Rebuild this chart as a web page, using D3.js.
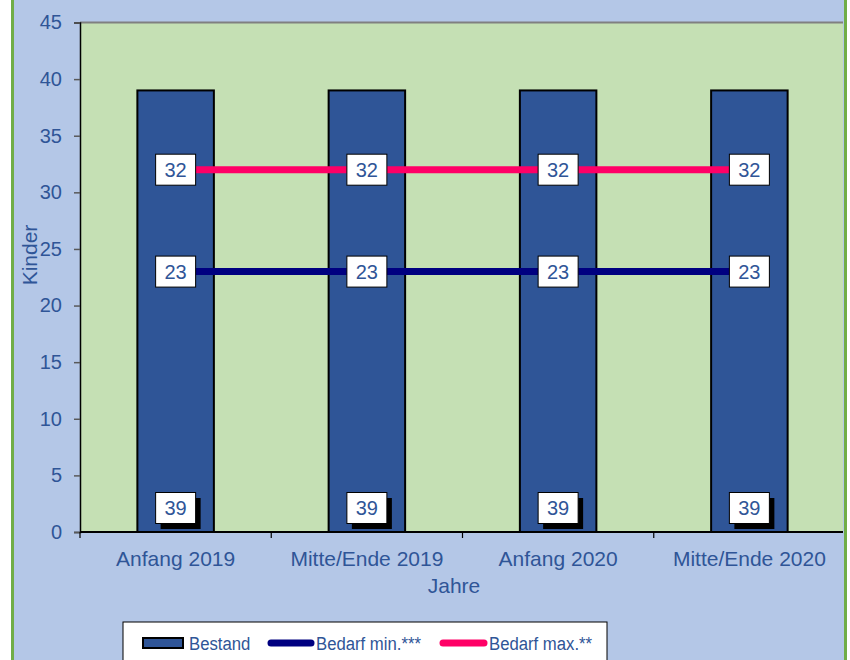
<!DOCTYPE html>
<html><head><meta charset="utf-8">
<script src="https://cdn.jsdelivr.net/npm/d3@7"></script>
<style>body{margin:0;background:#fff;}svg{display:block;font-family:Arial,"Liberation Sans",sans-serif;}</style>
</head><body><svg id="c" width="850" height="660"></svg>
<script>
const categories = ["Anfang 2019", "Mitte/Ende 2019", "Anfang 2020", "Mitte/Ende 2020"];
const bestand = [39, 39, 39, 39];
const bedarfMin = [23, 23, 23, 23];
const bedarfMax = [32, 32, 32, 32];
const yTicks = [0, 5, 10, 15, 20, 25, 30, 35, 40, 45];
const seriesNames = ["Bestand", "Bedarf min.***", "Bedarf max.**"];

const textColor = "#2f5597";
const svg = d3.select("#c");
// outer chart area
svg.append("rect").attr("x", 12.5).attr("y", -5).attr("width", 833).attr("height", 680)
  .attr("fill", "#b4c7e7").attr("stroke", "#70ad47").attr("stroke-width", 3);

const L = 80, R = 845, T = 22.5, B = 532;
const x = d3.scaleBand().domain(categories).range([L, R]).paddingInner(0).paddingOuter(0);
const y = d3.scaleLinear().domain([0, 45]).range([B, T]);

svg.append("rect").attr("x", L).attr("y", T).attr("width", R - L - 2).attr("height", B - T).attr("fill", "#c5e0b4");
svg.append("line").attr("x1", L).attr("x2", R - 2).attr("y1", T).attr("y2", T).attr("stroke", "#808080").attr("stroke-width", 2);

// bars
const bw = x.bandwidth() * 0.4;
svg.selectAll(".bar").data(bestand).enter().append("rect")
  .attr("x", (d, i) => x(categories[i]) + x.bandwidth() / 2 - bw / 2)
  .attr("y", d => y(d)).attr("width", bw).attr("height", d => y(0) - y(d))
  .attr("fill", "#2f5597").attr("stroke", "#000").attr("stroke-width", 2);

// axes
const yAxis = d3.axisLeft(y).tickValues(yTicks).tickSize(6).tickPadding(12);
const gy = svg.append("g").attr("transform", `translate(${L},0)`).call(yAxis);
gy.select(".domain").attr("stroke", "#000").attr("stroke-width", 1.5);
gy.selectAll(".tick line").attr("stroke", "#595959").attr("stroke-width", 1.5);
gy.selectAll("text").attr("fill", textColor).attr("font-size", 20).attr("font-family", "Arial, Liberation Sans");

const gx = svg.append("g").attr("transform", `translate(0,${B})`);
gx.append("line").attr("x1", L).attr("x2", R - 2).attr("y1", 0).attr("y2", 0).attr("stroke", "#000").attr("stroke-width", 2);
const bounds = [L].concat(categories.map(c => x(c) + x.bandwidth())).slice(0, 4);
gx.selectAll(".xt").data(bounds).enter().append("line")
  .attr("x1", d => d).attr("x2", d => d).attr("y1", 0).attr("y2", 6).attr("stroke", "#000").attr("stroke-width", 1.2);
gx.selectAll(".xl").data(categories).enter().append("text")
  .attr("x", d => x(d) + x.bandwidth() / 2).attr("y", 34).attr("text-anchor", "middle")
  .attr("fill", textColor).attr("font-size", 21).text(d => d);

svg.append("text").attr("x", 454).attr("y", 593).attr("text-anchor", "middle").attr("fill", textColor).attr("font-size", 21).text("Jahre");
svg.append("text").attr("transform", "translate(37,255) rotate(-90)").attr("text-anchor", "middle").attr("fill", textColor).attr("font-size", 21).text("Kinder");

// lines
const cx = i => x(categories[i]) + x.bandwidth() / 2;
const lineGen = d3.line().x((d, i) => cx(i)).y(d => y(d));
svg.append("path").datum(bedarfMin).attr("d", lineGen).attr("fill", "none").attr("stroke", "#000080").attr("stroke-width", 7);
svg.append("path").datum(bedarfMax).attr("d", lineGen).attr("fill", "none").attr("stroke", "#ff0066").attr("stroke-width", 7);

// labels
function label(val, i, yy, shadow) {
  const g = svg.append("g").attr("transform", `translate(${cx(i)},${yy})`);
  if (shadow) g.append("rect").attr("x", -15).attr("y", -10).attr("width", 40).attr("height", 31).attr("fill", "#000");
  g.append("rect").attr("x", -20).attr("y", -15.5).attr("width", 40).attr("height", 31).attr("fill", "#fff").attr("stroke", "#000").attr("stroke-width", 1);
  g.append("text").attr("x", 0).attr("y", 7).attr("text-anchor", "middle").attr("fill", textColor).attr("font-size", 20).text(val);
}
bedarfMax.forEach((v, i) => label(v, i, y(v), false));
bedarfMin.forEach((v, i) => label(v, i, y(v), false));
bestand.forEach((v, i) => label(v, i, 508, true));

// legend
const lg = svg.append("g");
lg.append("rect").attr("x", 123).attr("y", 622).attr("width", 484).attr("height", 60).attr("fill", "#fff").attr("stroke", "#000").attr("stroke-width", 1);
lg.append("rect").attr("x", 143).attr("y", 638).attr("width", 40).attr("height", 10).attr("fill", "#2f5597").attr("stroke", "#000").attr("stroke-width", 2);
lg.append("line").attr("x1", 271).attr("x2", 311).attr("y1", 643).attr("y2", 643).attr("stroke", "#000080").attr("stroke-width", 7).attr("stroke-linecap", "round");
lg.append("line").attr("x1", 443).attr("x2", 484).attr("y1", 643).attr("y2", 643).attr("stroke", "#ff0066").attr("stroke-width", 7).attr("stroke-linecap", "round");
const lx = [189, 316, 489];
seriesNames.forEach((s, i) => lg.append("text")
  .attr("transform", `translate(${lx[i]},650) scale(0.88,1)`)
  .attr("fill", textColor).attr("font-size", 19).text(s));
</script></body></html>
